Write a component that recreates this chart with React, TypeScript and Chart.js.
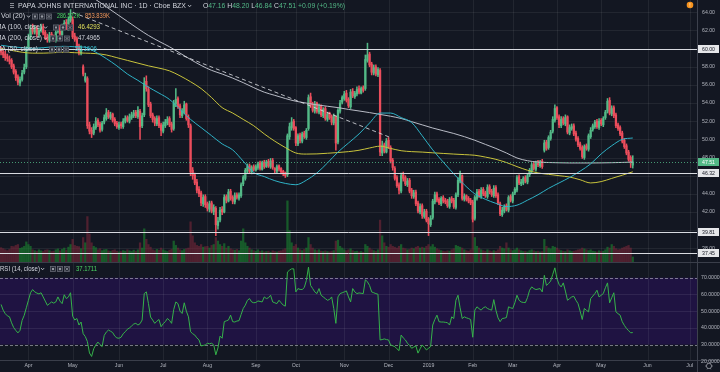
import React, { useEffect, useRef } from 'react';
import { Chart, registerables } from 'chart.js';

Chart.register(...registerables);

// ---------------- data ----------------
const firstSession = [2018, 2, 13]; // 13 Mar 2018
const holidays = ['2018-03-30', '2018-05-28', '2018-07-04', '2018-09-03', '2018-11-22', '2018-12-05', '2018-12-25', '2019-01-01', '2019-01-21', '2019-02-18', '2019-04-19', '2019-05-27', '2019-07-04'];
const sessionSlots = 331; // includes empty future sessions on the right
const monthNames = ['Jan', 'Feb', 'Mar', 'Apr', 'May', 'Jun', 'Jul', 'Aug', 'Sep', 'Oct', 'Nov', 'Dec'];

const opens = [
  59.9, 59.6, 59.4, 59.1, 58.8, 58.7, 58.1, 57.5, 56.9, 56.2,
  56.6, 57.4, 58.0, 60.0, 61.3, 62.3, 61.8, 62.2, 61.5, 62.0,
  62.4, 61.8, 61.3, 60.9, 61.6, 61.3, 60.9, 61.9, 62.3, 61.5,
  62.3, 62.9, 62.2, 63.1, 63.2, 61.4, 61.1, 60.3, 59.5, 58.0,
  56.5, 56.7, 51.6, 51.0, 50.7, 51.3, 52.1, 51.7, 51.1, 51.9,
  52.3, 53.0, 52.4, 52.8, 52.2, 51.8, 51.3, 51.7, 51.4, 52.0,
  52.4, 52.0, 52.4, 52.6, 53.0, 52.5, 53.1, 51.5, 52.7, 56.4,
  55.5, 53.9, 52.7, 52.3, 51.7, 52.4, 51.6, 50.9, 51.5, 51.8,
  52.3, 51.7, 51.2, 53.9, 54.5, 53.7, 52.6, 53.0, 53.9, 52.4,
  51.5, 46.6, 46.1, 45.3, 44.5, 44.1, 42.9, 43.7, 42.9, 42.3,
  43.0, 42.0, 42.4, 40.5, 41.1, 42.3, 42.0, 43.7, 43.2, 44.3,
  43.6, 43.1, 43.9, 43.5, 43.8, 45.1, 45.7, 46.5, 47.1, 46.4,
  47.0, 46.6, 46.9, 47.4, 46.7, 47.5, 47.0, 47.6, 47.0, 47.7,
  46.8, 46.5, 47.1, 46.8, 46.5, 46.3, 46.1, 50.3, 51.3, 52.0,
  51.3, 49.5, 50.5, 49.8, 50.7, 50.2, 51.2, 54.7, 53.9, 53.1,
  54.0, 53.0, 53.7, 52.6, 53.4, 52.2, 52.9, 52.5, 51.8, 52.5,
  49.7, 53.1, 54.1, 54.5, 55.1, 54.4, 53.6, 55.3, 54.7, 55.0,
  55.6, 55.1, 55.7, 55.6, 58.7, 59.4, 58.3, 57.3, 58.0, 57.1,
  57.6, 48.5, 49.4, 48.6, 49.9, 49.1, 47.7, 46.8, 45.8, 45.0,
  44.3, 46.1, 45.8, 45.0, 45.5, 44.4, 43.7, 44.2, 43.0, 42.0,
  42.7, 41.5, 42.1, 41.2, 40.6, 41.4, 43.1, 44.0, 43.4, 42.9,
  43.6, 43.3, 43.2, 42.6, 43.5, 43.3, 42.5, 43.9, 45.4, 46.0,
  43.4, 43.8, 43.5, 43.3, 43.1, 41.3, 43.5, 44.3, 43.7, 44.5,
  44.1, 43.7, 44.8, 44.3, 43.8, 44.7, 43.9, 42.9, 41.7, 42.1,
  42.7, 42.2, 43.7, 43.2, 44.1, 44.4, 45.9, 45.1, 45.2, 45.8,
  45.3, 46.1, 46.5, 47.3, 46.7, 47.5, 47.1, 47.6, 48.8, 49.7,
  49.1, 50.1, 50.9, 52.1, 53.5, 52.5, 51.5, 52.3, 51.7, 52.5,
  50.7, 51.2, 51.5, 50.7, 50.1, 49.5, 49.1, 48.0, 49.3, 48.9,
  50.3, 51.1, 51.4, 52.0, 51.3, 52.1, 51.6, 52.4, 53.1, 54.3,
  52.8, 53.5, 52.7, 51.6, 51.3, 50.7, 49.9, 49.3, 48.6, 48.0,
  47.16,
];
const highs = [
  60.2, 59.9, 59.7, 59.4, 59.2, 58.9, 58.3, 57.7, 57.1, 56.9,
  57.6, 58.3, 60.2, 61.6, 62.6, 62.7, 62.5, 62.5, 62.3, 62.7,
  62.7, 62.0, 61.6, 61.8, 61.8, 61.5, 62.1, 62.6, 62.6, 62.7,
  63.1, 63.2, 63.5, 64.3, 63.5, 61.7, 61.3, 60.5, 60.3, 58.2,
  57.3, 56.9, 51.9, 51.3, 51.7, 52.4, 52.3, 51.9, 52.0, 52.7,
  53.4, 53.2, 53.0, 52.9, 52.4, 52.0, 51.9, 51.9, 52.3, 52.6,
  52.6, 52.8, 53.0, 53.2, 53.2, 53.6, 53.3, 52.9, 56.8, 57.0,
  55.8, 54.1, 52.9, 52.5, 52.6, 52.6, 51.8, 51.9, 52.2, 52.5,
  52.5, 51.9, 54.3, 55.6, 54.7, 53.9, 53.4, 54.2, 54.0, 52.7,
  51.7, 46.9, 46.3, 45.6, 44.8, 44.3, 43.9, 43.9, 43.1, 43.2,
  43.2, 42.8, 42.6, 41.4, 42.5, 42.6, 43.9, 43.9, 44.5, 44.5,
  43.8, 44.1, 44.1, 44.1, 45.2, 46.0, 46.8, 47.3, 47.3, 47.1,
  47.2, 47.2, 47.5, 47.6, 47.6, 47.7, 47.7, 47.8, 47.9, 47.9,
  46.9, 47.2, 47.2, 46.9, 46.6, 46.4, 50.6, 51.8, 52.4, 52.2,
  51.4, 50.6, 50.7, 50.8, 50.9, 51.2, 54.9, 55.1, 54.1, 54.2,
  54.1, 53.9, 53.8, 53.5, 53.6, 53.0, 53.0, 52.7, 52.8, 52.6,
  53.4, 54.3, 54.8, 55.3, 55.4, 54.6, 55.5, 55.6, 55.3, 55.8,
  55.9, 55.8, 55.9, 59.3, 60.6, 59.6, 58.5, 58.2, 58.2, 57.9,
  57.8, 49.8, 49.6, 50.1, 50.2, 49.3, 47.9, 47.0, 46.0, 45.2,
  46.3, 46.4, 46.0, 45.7, 45.7, 44.6, 44.4, 44.4, 43.2, 42.9,
  42.9, 42.3, 42.3, 41.4, 41.6, 43.4, 44.2, 44.2, 43.6, 43.7,
  43.8, 43.5, 43.4, 43.6, 43.7, 43.5, 44.1, 45.8, 46.5, 46.1,
  44.0, 43.9, 43.7, 43.5, 43.3, 43.8, 44.5, 44.5, 44.7, 44.7,
  44.3, 45.0, 45.0, 44.5, 44.9, 44.9, 44.1, 43.1, 42.5, 42.8,
  42.9, 43.8, 43.9, 44.2, 44.7, 46.0, 46.1, 45.6, 45.9, 46.0,
  46.2, 46.8, 47.4, 47.5, 47.6, 47.7, 47.7, 47.8, 49.9, 49.9,
  50.4, 51.0, 52.5, 53.8, 53.6, 52.7, 52.5, 52.5, 52.7, 52.6,
  51.6, 51.7, 51.7, 50.9, 50.3, 49.7, 49.3, 49.4, 49.5, 50.6,
  51.3, 51.7, 52.1, 52.2, 52.3, 52.3, 52.5, 53.2, 54.5, 54.6,
  53.7, 53.7, 52.9, 51.8, 51.5, 50.9, 50.1, 49.5, 48.8, 48.2,
  48.2,
];
const lows = [
  59.3, 59.0, 58.7, 58.6, 58.3, 57.8, 57.2, 56.5, 56.0, 55.9,
  56.4, 57.2, 57.8, 59.8, 61.0, 61.6, 61.6, 61.3, 61.3, 61.8,
  61.5, 61.0, 60.7, 60.7, 61.0, 60.8, 60.7, 61.7, 61.3, 61.3,
  62.1, 62.1, 62.0, 62.9, 61.1, 60.8, 60.0, 59.3, 59.3, 57.0,
  56.3, 51.2, 50.6, 50.2, 50.5, 51.1, 51.4, 50.8, 50.9, 51.7,
  52.1, 52.3, 52.2, 51.9, 51.5, 51.2, 51.1, 51.2, 51.2, 51.8,
  51.9, 51.8, 52.2, 52.4, 52.4, 52.3, 50.0, 51.3, 52.5, 55.3,
  53.6, 52.4, 51.9, 51.5, 51.5, 51.3, 50.4, 50.7, 51.3, 51.6,
  51.4, 50.8, 51.0, 53.6, 53.4, 52.4, 52.4, 52.8, 52.1, 51.3,
  46.0, 45.6, 45.0, 44.1, 43.7, 42.7, 42.6, 42.5, 42.1, 42.0,
  41.9, 41.7, 39.4, 40.1, 40.9, 41.7, 41.9, 43.0, 43.1, 43.3,
  42.9, 42.9, 43.4, 43.3, 43.6, 44.9, 45.5, 46.3, 46.3, 46.2,
  46.5, 46.5, 46.7, 46.6, 46.6, 46.8, 46.9, 46.9, 46.8, 46.7,
  46.3, 46.3, 46.5, 46.2, 46.0, 45.8, 45.9, 50.0, 51.0, 51.0,
  49.3, 49.3, 49.6, 49.6, 50.1, 50.0, 51.0, 53.5, 53.0, 52.9,
  52.9, 52.8, 52.5, 52.4, 52.1, 52.0, 52.2, 51.6, 51.6, 48.8,
  49.5, 52.9, 53.9, 54.3, 54.1, 53.5, 53.4, 54.6, 54.5, 54.8,
  55.0, 55.0, 55.2, 55.4, 58.5, 58.0, 57.1, 57.1, 57.0, 56.9,
  48.2, 48.2, 48.5, 48.5, 49.0, 47.4, 46.6, 45.5, 44.7, 44.0,
  44.1, 45.4, 44.9, 44.8, 44.1, 43.5, 43.5, 42.7, 41.9, 41.8,
  41.3, 41.3, 40.9, 39.4, 40.4, 41.2, 42.9, 43.1, 42.8, 42.7,
  43.0, 42.9, 42.5, 42.4, 43.0, 42.4, 42.3, 43.7, 45.2, 43.3,
  43.2, 43.2, 43.0, 42.8, 40.9, 41.1, 43.3, 43.6, 43.5, 43.8,
  43.6, 43.5, 44.0, 43.7, 43.6, 43.6, 42.8, 41.6, 41.5, 41.9,
  42.1, 42.0, 43.1, 43.0, 43.9, 44.2, 45.0, 44.9, 45.0, 45.2,
  45.1, 45.9, 46.3, 46.6, 46.5, 47.0, 46.9, 46.8, 48.6, 48.8,
  48.9, 49.9, 50.7, 51.9, 52.2, 51.3, 51.3, 51.6, 51.5, 50.6,
  50.5, 51.0, 50.4, 49.8, 49.2, 48.8, 47.9, 47.8, 48.8, 48.7,
  50.1, 50.9, 51.2, 51.2, 51.1, 51.5, 51.4, 52.2, 52.9, 52.7,
  52.6, 52.4, 51.3, 51.0, 50.4, 49.6, 49.0, 48.3, 47.6, 46.9,
  46.84,
];
const closes = [
  59.6, 59.3, 59.0, 58.9, 58.6, 58.0, 57.4, 56.8, 56.3, 56.6,
  57.3, 57.9, 59.9, 61.2, 62.2, 61.9, 62.1, 61.6, 62.0, 62.3,
  61.7, 61.2, 61.0, 61.5, 61.2, 61.0, 61.8, 62.2, 61.6, 62.4,
  62.8, 62.3, 63.2, 63.6, 61.3, 61.0, 60.2, 59.6, 59.9, 57.2,
  56.9, 51.5, 50.9, 50.6, 51.4, 52.0, 51.6, 51.0, 51.8, 52.4,
  52.9, 52.5, 52.7, 52.1, 51.7, 51.4, 51.6, 51.5, 52.0, 52.3,
  52.1, 52.5, 52.7, 52.9, 52.6, 53.2, 51.4, 52.6, 56.2, 55.6,
  53.8, 52.6, 52.2, 51.8, 52.3, 51.5, 51.0, 51.6, 51.9, 52.2,
  51.6, 51.1, 54.0, 54.4, 53.6, 52.7, 53.1, 53.8, 52.3, 51.6,
  46.4, 46.0, 45.2, 44.4, 44.0, 43.0, 43.6, 42.8, 42.4, 42.9,
  42.1, 42.5, 40.6, 41.0, 42.2, 42.0, 43.6, 43.3, 44.2, 43.5,
  43.2, 43.8, 43.6, 43.9, 45.0, 45.8, 46.6, 47.0, 46.5, 46.9,
  46.7, 47.0, 47.3, 46.8, 47.4, 47.0, 47.5, 47.1, 47.6, 46.9,
  46.6, 47.0, 46.7, 46.4, 46.2, 46.0, 50.4, 51.4, 51.9, 51.2,
  49.6, 50.4, 49.9, 50.6, 50.3, 51.0, 54.6, 53.8, 53.2, 53.9,
  53.1, 53.6, 52.7, 53.3, 52.3, 52.8, 52.4, 51.9, 52.6, 49.6,
  53.2, 54.0, 54.6, 55.0, 54.3, 53.7, 55.2, 54.8, 55.1, 55.5,
  55.2, 55.6, 55.4, 58.8, 59.3, 58.2, 57.4, 57.9, 57.2, 57.7,
  48.6, 49.3, 48.7, 49.8, 49.2, 47.6, 46.9, 45.7, 44.9, 44.4,
  46.0, 45.7, 45.1, 45.4, 44.3, 43.8, 44.1, 42.9, 42.1, 42.6,
  41.6, 42.0, 41.1, 40.7, 41.3, 43.2, 43.9, 43.3, 43.0, 43.5,
  43.2, 43.1, 42.7, 43.4, 43.2, 42.6, 43.9, 45.5, 46.2, 43.5,
  43.7, 43.4, 43.2, 43.0, 41.2, 43.6, 44.2, 43.8, 44.4, 44.0,
  43.8, 44.7, 44.2, 43.9, 44.6, 43.8, 43.0, 41.8, 42.2, 42.6,
  42.3, 43.6, 43.3, 44.0, 44.5, 45.8, 45.2, 45.3, 45.7, 45.4,
  46.0, 46.6, 47.2, 46.8, 47.4, 47.2, 47.5, 47.0, 49.6, 49.0,
  50.2, 50.8, 52.2, 53.4, 52.4, 51.6, 52.2, 51.8, 52.4, 50.8,
  51.3, 51.4, 50.6, 50.0, 49.4, 49.0, 48.1, 49.2, 49.0, 50.4,
  51.0, 51.5, 51.9, 51.4, 52.0, 51.7, 52.3, 53.0, 54.2, 52.9,
  53.4, 52.6, 51.5, 51.2, 50.6, 49.8, 49.2, 48.5, 47.8, 47.42,
  47.51,
];
// volume in thousands of shares
const volumesK = [
  820, 760, 700, 650, 720, 900, 880, 950, 1000, 780, 820, 900,
  1150, 1000, 900, 700, 650, 620, 700, 640, 600, 680, 700, 650, 600, 620, 700, 750, 640, 720, 800, 680, 850, 1000,
  1300, 950, 900, 880, 760, 1400, 1100, 2600, 1600, 1100,
  900, 820, 700, 760, 650, 700, 720, 640, 600, 660, 700, 620, 580, 600, 650, 620, 700, 640, 600, 680, 620, 700, 1100, 800,
  1900, 1300, 1000, 850, 700, 650, 720, 680, 800, 700, 640, 600, 680, 720, 1200, 950, 800, 700, 650, 720, 760, 800,
  2300, 1500, 1100, 950, 900, 1000, 850, 880, 900, 800, 950, 1000, 1400, 1200, 1000, 900, 1050, 800, 900, 760, 700, 680, 720, 650,
  1200, 1900, 1100, 900, 800, 700, 650, 620, 700, 600, 640, 580, 600, 620, 560, 640, 600, 580, 620, 640, 700, 760,
  3500, 1800, 1100, 900, 1000, 800, 700, 650, 720, 800, 1400, 1000, 800, 700, 650, 700, 620, 600, 640, 600, 580, 620, 650, 1200,
  1250, 900, 800, 700, 650, 700, 760, 650, 600, 620, 580, 600, 560, 1000, 900, 800, 700, 650, 620, 700,
  2400, 1500, 1100, 900, 850, 1000, 900, 850, 800, 900, 1000, 800, 760, 700, 720, 800, 760, 850, 900, 800, 850, 800, 900, 1000, 880,
  1000, 850, 760, 700, 650, 620, 600, 640, 620, 700, 760, 950, 900, 850, 800, 700, 650, 620, 700, 2600,
  1400, 900, 800, 700, 650, 620, 700, 640, 600, 650, 620, 700, 900, 800, 760, 1100, 800, 700, 650, 700, 800, 700, 640, 600, 620, 580, 650, 700, 640, 600, 620, 580, 600,
  1300, 900, 800, 750, 900, 850, 800, 700, 650, 620, 600, 700, 640, 600, 620, 650, 700, 720, 800, 750, 700, 650, 700,
  620, 600, 580, 640, 600, 620, 700, 850, 800, 1000, 900, 760, 700, 720, 800, 850, 900, 950, 800, 287,
];
const rsi14 = [
  54, 50.6, 48.5, 47.2, 46.6, 43, 40.2, 38.5, 37, 38.5,
  44.5, 47.5, 52, 56.5, 61, 62.9, 61.5, 60.8, 60.3, 61,
  58.5, 56, 53.5, 54.5, 55.5, 54.8, 55.5, 58.5, 56, 54.5,
  59.8, 57.5, 58.5, 61, 47, 44.7, 45.6, 41.7, 43.5, 36.5,
  34.8, 31.8, 25, 22.9, 27.5, 29.8, 31.5, 30, 28.8, 35.5,
  37.5, 38.7, 38, 37.2, 35.1, 34, 33.8, 34.4, 36.5, 37.7,
  39.2, 40, 41.1, 42.3, 42.7, 41.7, 42.5, 44.7, 60.5, 61.5,
  54.5, 46.5, 44.7, 42.7, 44, 45, 40.7, 42.5, 43.7, 45.6,
  44.5, 42.7, 51, 55.5, 54.5, 50, 48.6, 55, 50, 46.6,
  37.7, 36.5, 35.7, 34, 32.8, 29.2, 29.5, 29.8, 30.8, 30.5,
  30.8, 29.8, 23.9, 28, 35.1, 33.8, 43.7, 44.2, 44.7, 47.6,
  43.7, 43.5, 44.1, 44.3, 48, 51.6, 53.6, 56.5, 57.5, 55.5,
  55, 55.2, 56.1, 55.8, 55.5, 58.5, 57.5, 58, 59.5, 55.5,
  55, 54.5, 56.5, 55, 53.6, 53, 73.4, 74.5, 75.3, 75.3,
  61.5, 63.5, 63, 62.9, 64.1, 68.4, 76.3, 65.4, 63.5, 61.5,
  60.5, 63.5, 59.5, 58.5, 57.5, 56.5, 57, 58.5, 51.6, 42.7,
  58.5, 60.5, 61, 61.5, 62.1, 58.5, 55.5, 63.5, 61.5, 60.5,
  60.9, 60.7, 60.5, 68.8, 67.5, 65.4, 61.5, 61, 60.5, 60.1,
  32.8, 33, 33.4, 33, 32.8, 29.8, 29.3, 28.8, 27.5, 26.4,
  35.7, 34, 32.8, 30.8, 29.5, 27.8, 28.5, 29.2, 24.9, 27.5,
  29.8, 28.4, 26.8, 27.8, 28.8, 41.7, 45, 47.6, 43.7, 43.5,
  43.5, 43.3, 43.1, 41.7, 46.6, 45.6, 56.5, 59.5, 52, 45.6,
  46.6, 46, 45.6, 45, 34.4, 50.6, 52.6, 51.5, 50.6, 52,
  52.6, 51.6, 51, 50.6, 56.9, 50.6, 46, 43.7, 45.6, 45.8,
  46.2, 52.6, 52, 51.6, 55, 59.5, 56.5, 55.5, 55.2, 55.1,
  58.1, 62.5, 64.5, 63.5, 62.9, 63.2, 63.5, 61.5, 71.4, 65.4,
  66.5, 68, 72, 75.9, 69.4, 66, 64.5, 66.9, 62, 56.5,
  57.5, 58.5, 58.9, 56.5, 54.5, 50, 45, 51.6, 50.5, 49.6,
  57.5, 59, 60.5, 62.5, 58.5, 59.5, 60.5, 64, 66.9, 55,
  58, 61, 49.6, 48.5, 47.6, 43.7, 41.5, 39.7, 38.3, 37.1,
  37.17,
];
// moving averages, one reading every 5 sessions
const maStep = 5;
const ma50Every5 = [
  60.37, 60.2, 60.1, 60.04, 60.1, 60.2, 60.25, 60.2, 60.15, 59.6,
  58.9, 58.1, 57.2, 56.5, 55.75, 55.1, 54.4, 53.3, 52.2, 51.3,
  50.4, 49.5, 48.84, 47.6, 46.35, 45.9, 45.45, 45.15, 45.0, 45.5,
  46.3, 47.4, 48.6, 49.6, 50.6, 51.8, 52.9, 52.9, 52.4, 51.85,
  50.4, 48.84, 47.5, 46.2, 45.0, 44.0, 43.4, 42.95, 42.6, 42.75,
  43.3, 43.9, 44.6, 45.2, 45.8, 46.5, 47.3, 48.4, 49.3, 50.0,
  50.15,
];
const ma100Every5 = [
  60.0, 59.8, 59.6, 59.5, 59.5, 59.55, 59.6, 59.55, 59.5, 59.45,
  59.3, 59.0, 58.7, 58.4, 58.1, 57.85, 57.55, 57.0, 56.35, 55.6,
  54.6, 53.5, 52.9, 52.2, 51.5, 50.6, 49.8, 49.1, 48.5, 48.38,
  48.4, 48.47, 48.55, 48.65, 48.8, 49.05, 49.25, 49.0, 48.75, 48.65,
  48.6, 48.52, 48.45, 48.38, 48.32, 48.25, 48.05, 47.8, 47.45, 47.0,
  46.6, 46.3, 46.15, 46.0, 45.85, 45.55, 45.2, 45.35, 45.7, 46.05,
  46.43,
];
const ma200Every5 = [
  null, null, null, null, null, null, null, 66.9, 66.1, 65.4,
  64.6, 63.8, 63.0, 62.2, 61.45, 60.8, 60.2, 59.5, 58.8, 58.15,
  57.6, 57.2, 56.75, 56.25, 55.7, 55.2, 54.85, 54.5, 54.2, 54.0,
  53.8, 53.65, 53.5, 53.3, 53.13, 52.95, 52.75, 52.55, 52.3, 51.95,
  51.6, 51.25, 50.95, 50.65, 50.3, 49.9, 49.45, 49.0, 48.5, 47.95,
  47.65, 47.5, 47.45, 47.42, 47.4, 47.4, 47.4, 47.41, 47.43, 47.46,
  47.5,
];
const trendLine = [{ session: 34, price: 64.0 }, { session: 185, price: 50.2 }];
const levelLines = [60.0, 46.32, 39.81, 37.45];
const priceTicks = [38, 40, 42, 44, 46, 48, 50, 52, 54, 56, 58, 60, 62, 64];
const rsiTicks = [70, 60, 50, 40, 30, 20];
const rsiGrid = [60, 50, 40];
const lastPrice = 47.51;
const quoteParts = [['O', 'lab'], ['47.16', 'val'], [' H', 'lab'], ['48.20', 'val'], [' L', 'lab'], ['46.84', 'val'], [' C', 'lab'], ['47.51', 'val'], [' +0.09 (+0.19%)', 'val']];
const titleText = 'PAPA JOHNS INTERNATIONAL INC \u00b7 1D \u00b7 Cboe BZX';
const volLegend = ['286.572K', '853.839K'];
const maLegend = [
  { name: 'MA (100, close)', value: '46.4293', color: '#e2e05a' },
  { name: 'MA (200, close)', value: '47.4965', color: '#d1d4dc' },
  { name: 'MA (50, close)', value: '50.1606', color: '#3cc4d4' },
];
const rsiLegend = { name: 'RSI (14, close)', value: '37.1711' };

// ---------------- styles ----------------
const BG = '#131722';
const GRID = 'rgba(255,255,255,0.065)';
const UP = '#53b987';
const DOWN = '#eb4d5c';
const VOL_UP = 'rgba(25,120,45,0.7)';
const VOL_DOWN = 'rgba(130,40,58,0.55)';
const TXT = '#d1d4dc';
const AXT = '#b2b5be';
const FONT = '"Liberation Sans", "DejaVu Sans", sans-serif';
const AXIS_W = 23;
const PRICE_H = 262;
const RSI_H = 110;
const TIME_H = 12;

function buildSessions() {
  const out = [];
  const hol = new Set(holidays);
  const d = new Date(Date.UTC(firstSession[0], firstSession[1], firstSession[2]));
  while (out.length < sessionSlots) {
    const dow = d.getUTCDay();
    const iso = d.toISOString().slice(0, 10);
    if (dow !== 0 && dow !== 6 && !hol.has(iso)) out.push(iso);
    d.setUTCDate(d.getUTCDate() + 1);
  }
  return out;
}
const sessions = buildSessions();
const monthTicks = [];
sessions.forEach((iso, i) => {
  if (i === 0) return;
  const m = +iso.slice(5, 7) - 1;
  const pm = +sessions[i - 1].slice(5, 7) - 1;
  if (m !== pm) monthTicks.push({ index: i, label: m === 0 ? iso.slice(0, 4) : monthNames[m] });
});

function expandEvery(arr) {
  const out = new Array(closes.length).fill(null);
  arr.forEach((v, k) => { out[k * maStep] = v; });
  return out;
}

function fitText(ctx, text, x, y, width, size, color, align) {
  ctx.save();
  ctx.font = `${size}px ${FONT}`;
  ctx.fillStyle = color;
  ctx.textBaseline = 'middle';
  const w = ctx.measureText(text).width;
  const sx = width ? width / w : 1;
  let x0 = x;
  if (align === 'center') x0 = x - (w * sx) / 2;
  ctx.translate(x0, y);
  ctx.scale(sx, 1);
  ctx.fillText(text, 0, 0);
  ctx.restore();
}
function richText(ctx, parts, x, y, width, size) {
  ctx.save();
  ctx.font = `${size}px ${FONT}`;
  ctx.textBaseline = 'middle';
  let total = 0;
  parts.forEach((p) => { total += ctx.measureText(p[0]).width; });
  ctx.translate(x, y);
  ctx.scale(width / total, 1);
  let cx = 0;
  parts.forEach((p) => {
    ctx.fillStyle = p[1];
    ctx.fillText(p[0], cx, 0);
    cx += ctx.measureText(p[0]).width;
  });
  ctx.restore();
}
function hline(ctx, x1, x2, y, color, dash) {
  ctx.save();
  ctx.strokeStyle = color;
  ctx.lineWidth = 1;
  if (dash) ctx.setLineDash(dash);
  ctx.beginPath();
  ctx.moveTo(x1, Math.round(y) + 0.5);
  ctx.lineTo(x2, Math.round(y) + 0.5);
  ctx.stroke();
  ctx.restore();
}
function vline(ctx, x, y1, y2, color) {
  ctx.save();
  ctx.strokeStyle = color;
  ctx.lineWidth = 1;
  ctx.beginPath();
  ctx.moveTo(Math.round(x) + 0.5, y1);
  ctx.lineTo(Math.round(x) + 0.5, y2);
  ctx.stroke();
  ctx.restore();
}
function chevron(ctx, x, y) {
  ctx.save();
  ctx.strokeStyle = TXT;
  ctx.lineWidth = 0.8;
  ctx.beginPath();
  ctx.moveTo(x, y - 1);
  ctx.lineTo(x + 1.6, y + 0.8);
  ctx.lineTo(x + 3.2, y - 1);
  ctx.stroke();
  ctx.restore();
}
function iconBoxes(ctx, x, y) {
  ctx.save();
  for (let k = 0; k < 3; k++) {
    const bx = x + k * 7;
    ctx.fillStyle = '#2a2e39';
    ctx.fillRect(bx, y - 3, 6, 6);
    ctx.strokeStyle = '#6a6d78';
    ctx.lineWidth = 0.7;
    ctx.strokeRect(bx + 0.5, y - 2.5, 5, 5);
    ctx.fillStyle = '#9598a1';
    if (k === 0) ctx.fillRect(bx + 2, y - 1, 2, 2);
    if (k === 1) { ctx.beginPath(); ctx.arc(bx + 3, y, 1.2, 0, Math.PI * 2); ctx.fill(); }
    if (k === 2) {
      ctx.strokeStyle = '#9598a1';
      ctx.beginPath();
      ctx.moveTo(bx + 1.5, y - 1.5); ctx.lineTo(bx + 4.5, y + 1.5);
      ctx.moveTo(bx + 4.5, y - 1.5); ctx.lineTo(bx + 1.5, y + 1.5);
      ctx.stroke();
    }
  }
  ctx.restore();
}
function tag(ctx, x, y, text, bg, fg) {
  ctx.save();
  ctx.fillStyle = bg;
  ctx.fillRect(x, Math.round(y) - 4, AXIS_W - 2, 8);
  ctx.restore();
  fitText(ctx, text, x + 4, Math.round(y) + 0.2, 0, 5.2, fg);
}

const pricePlugin = {
  id: 'priceDecor',
  beforeDatasetsDraw(chart) {
    const { ctx, chartArea: a, scales } = chart;
    const x = scales.x, y = scales.y;
    monthTicks.forEach((t) => vline(ctx, x.getPixelForValue(t.index), 0, a.bottom, GRID));
    priceTicks.forEach((v) => hline(ctx, 0, a.right, y.getPixelForValue(v), GRID));
  },
  afterDatasetsDraw(chart) {
    const { ctx, chartArea: a, scales } = chart;
    const y = scales.y;
    hline(ctx, 0, a.right, y.getPixelForValue(lastPrice), 'rgba(83,185,135,0.8)', [1, 2]);
    levelLines.forEach((v) => hline(ctx, 0, a.right, y.getPixelForValue(v), '#d8dae0'));
    // price axis
    vline(ctx, a.right, 0, PRICE_H, '#3d414d');
    priceTicks.forEach((v) => fitText(ctx, v.toFixed(2), a.right + 5, y.getPixelForValue(v), 0, 5.2, AXT));
    levelLines.forEach((v) => tag(ctx, a.right + 1, y.getPixelForValue(v), v.toFixed(2), '#e6e7ea', '#131722'));
    tag(ctx, a.right + 1, y.getPixelForValue(lastPrice), lastPrice.toFixed(2), UP, '#ffffff');
    // warning badge
    ctx.save();
    ctx.fillStyle = '#f7931e';
    ctx.beginPath();
    ctx.arc(690, 5, 3.3, 0, Math.PI * 2);
    ctx.fill();
    ctx.restore();
    fitText(ctx, '!', 690, 5.2, 0, 5, '#ffffff', 'center');
    // legend
    ctx.save();
    ctx.fillStyle = '#9598a1';
    for (let k = 0; k < 3; k++) ctx.fillRect(10, 3 + k * 2, 4, 0.9);
    ctx.restore();
    fitText(ctx, titleText, 18, 6, 168, 7, TXT);
    chevron(ctx, 188, 6);
    richText(ctx, quoteParts.map((p) => [p[0], p[1] === 'lab' ? TXT : UP]), 203, 6, 142, 7);
    fitText(ctx, 'Vol (20)', 1, 16.5, 24, 6.5, TXT);
    chevron(ctx, 27, 16.5);
    iconBoxes(ctx, 32, 16.5);
    fitText(ctx, volLegend[0], 57, 16.5, 23, 6.5, '#4cd964');
    fitText(ctx, volLegend[1], 85, 16.5, 25, 6.5, '#f0965a');
    const rows = [
      { y: 27.5, w: 46, ix: 53, vx: 78 },
      { y: 38.5, w: 46, ix: 50, vx: 78 },
      { y: 49.5, w: 42, ix: 49, vx: 75 },
    ];
    maLegend.forEach((m, k) => {
      const r = rows[k];
      fitText(ctx, m.name, -4, r.y, r.w, 6.5, TXT);
      chevron(ctx, r.w - 2, r.y);
      iconBoxes(ctx, r.ix, r.y);
      fitText(ctx, m.value, r.vx, r.y, 22, 6.5, m.color);
    });
  },
};

const rsiPlugin = {
  id: 'rsiDecor',
  beforeDatasetsDraw(chart) {
    const { ctx, chartArea: a, scales } = chart;
    const x = scales.x, y = scales.y;
    const y70 = y.getPixelForValue(70), y30 = y.getPixelForValue(30);
    ctx.save();
    ctx.fillStyle = 'rgba(98,0,234,0.16)';
    ctx.fillRect(0, y70, a.right, y30 - y70);
    ctx.restore();
    monthTicks.forEach((t) => vline(ctx, x.getPixelForValue(t.index), 0, a.bottom, GRID));
    rsiGrid.forEach((v) => hline(ctx, 0, a.right, y.getPixelForValue(v), 'rgba(255,255,255,0.08)'));
    hline(ctx, 0, a.right, y70, 'rgba(200,202,210,0.55)', [3, 2]);
    hline(ctx, 0, a.right, y30, 'rgba(200,202,210,0.55)', [3, 2]);
  },
  afterDatasetsDraw(chart) {
    const { ctx, chartArea: a, scales } = chart;
    const x = scales.x, y = scales.y;
    hline(ctx, 0, 720, 0, '#3a3e4a');
    hline(ctx, 0, 720, a.bottom, '#3a3e4a');
    vline(ctx, a.right, 0, RSI_H, '#3d414d');
    rsiTicks.forEach((v) => fitText(ctx, v.toFixed(4), a.right + 4, y.getPixelForValue(v), 0, 5.2, AXT));
    monthTicks.forEach((t) => fitText(ctx, t.label, x.getPixelForValue(t.index), a.bottom + 6, 0, 5.2, AXT, 'center'));
    // settings gear
    ctx.save();
    ctx.strokeStyle = '#9598a1';
    ctx.lineWidth = 0.8;
    ctx.beginPath();
    ctx.arc(709, a.bottom + 6, 2.6, 0, Math.PI * 2);
    ctx.stroke();
    for (let k = 0; k < 6; k++) {
      const ang = (k * Math.PI) / 3;
      ctx.beginPath();
      ctx.moveTo(709 + Math.cos(ang) * 2.6, a.bottom + 6 + Math.sin(ang) * 2.6);
      ctx.lineTo(709 + Math.cos(ang) * 3.8, a.bottom + 6 + Math.sin(ang) * 3.8);
      ctx.stroke();
    }
    ctx.restore();
    fitText(ctx, rsiLegend.name, 0, 7, 40, 6.5, TXT);
    chevron(ctx, 41, 7);
    iconBoxes(ctx, 50, 7);
    fitText(ctx, rsiLegend.value, 76, 7, 21, 6.5, '#4cd964');
  },
};

export default function App() {
  const topRef = useRef(null);
  const botRef = useRef(null);

  useEffect(() => {
    document.body.style.margin = '0';
    document.body.style.background = BG;
    const candleColors = closes.map((c, i) => (c >= opens[i] ? UP : DOWN));
    const volColors = closes.map((c, i) => (c >= opens[i] ? VOL_UP : VOL_DOWN));
    const trendData = new Array(closes.length).fill(null);
    trendLine.forEach((p) => { trendData[p.session] = p.price; });
    const lineBase = { type: 'line', pointRadius: 0, borderWidth: 1, spanGaps: true, cubicInterpolationMode: 'monotone', yAxisID: 'y', fill: false };

    const top = new Chart(topRef.current, {
      type: 'bar',
      data: {
        labels: sessions,
        datasets: [
          { ...lineBase, data: trendData, borderColor: 'rgba(225,227,232,0.8)', borderDash: [4, 3], cubicInterpolationMode: 'default', tension: 0 },
          { ...lineBase, data: expandEvery(ma50Every5), borderColor: '#2fb3c7' },
          { ...lineBase, data: expandEvery(ma100Every5), borderColor: '#c9c43c' },
          { ...lineBase, data: expandEvery(ma200Every5), borderColor: '#b9bcc6' },
          { type: 'bar', data: closes.map((c, i) => [opens[i], c]), backgroundColor: candleColors, barThickness: 1.6, grouped: false, minBarLength: 1, yAxisID: 'y' },
          { type: 'bar', data: closes.map((c, i) => [lows[i], highs[i]]), backgroundColor: candleColors, barThickness: 0.9, grouped: false, yAxisID: 'y' },
          { type: 'bar', data: volumesK, backgroundColor: volColors, barThickness: 1.6, grouped: false, yAxisID: 'vol' },
        ],
      },
      options: {
        responsive: false,
        maintainAspectRatio: false,
        animation: false,
        events: [],
        layout: { padding: { left: 0, right: AXIS_W, top: 0, bottom: 0 } },
        plugins: { legend: { display: false }, tooltip: { enabled: false } },
        scales: {
          x: { type: 'category', display: false, offset: true },
          y: { type: 'linear', display: false, min: 36.49, max: 65.355 },
          vol: { type: 'linear', display: false, min: 0, max: 15000 },
        },
      },
      plugins: [pricePlugin],
    });

    const bot = new Chart(botRef.current, {
      type: 'line',
      data: {
        labels: sessions,
        datasets: [
          { data: rsi14, borderColor: '#35b34a', borderWidth: 1, pointRadius: 0, tension: 0, fill: false },
        ],
      },
      options: {
        responsive: false,
        maintainAspectRatio: false,
        animation: false,
        events: [],
        layout: { padding: { left: 0, right: AXIS_W, top: 0, bottom: TIME_H } },
        plugins: { legend: { display: false }, tooltip: { enabled: false } },
        scales: {
          x: { type: 'category', display: false, offset: true },
          y: { type: 'linear', display: false, min: 20.79, max: 79.39 },
        },
      },
      plugins: [rsiPlugin],
    });

    return () => { top.destroy(); bot.destroy(); };
  }, []);

  return (
    <div style={{ position: 'fixed', left: 0, top: 0, width: 720, height: 372, background: BG, overflow: 'hidden' }}>
      <canvas ref={topRef} width={720} height={PRICE_H} style={{ position: 'absolute', left: 0, top: 0, width: 720, height: PRICE_H }} />
      <canvas ref={botRef} width={720} height={RSI_H} style={{ position: 'absolute', left: 0, top: PRICE_H, width: 720, height: RSI_H }} />
    </div>
  );
}
